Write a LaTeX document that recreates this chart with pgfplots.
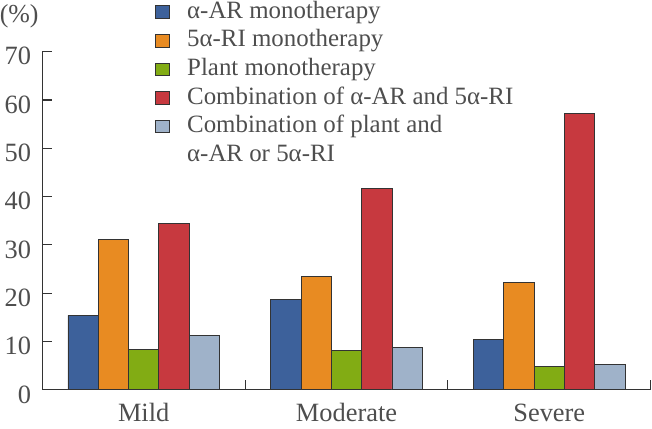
\documentclass[border=0pt]{standalone}
\usepackage{pgfplots}
\pgfplotsset{compat=1.18}
\usepackage{fontspec}
\setmainfont{Liberation Serif}
\definecolor{cblue}{HTML}{3D619B}
\definecolor{corange}{HTML}{E88B22}
\definecolor{cgreen}{HTML}{82AC14}
\definecolor{cred}{HTML}{C7393F}
\definecolor{clblue}{HTML}{9FB2C9}
\definecolor{txt}{HTML}{4E4E4E}
\definecolor{axc}{HTML}{333333}
\begin{document}
\begin{tikzpicture}
\begin{axis}[
  name=ax,
  width=608.7bp, height=338.3bp, scale only axis,
  xmin=-0.5, xmax=2.5, ymin=0, ymax=70,
  ybar=0pt, bar width=30.3bp,
  axis lines*=left,
  axis line style={axc, line width=1.1bp},
  tick style={axc, line width=1.1bp},
  tick align=inside,
  major tick length=10bp,
  ytick={0,10,...,70},
  xtick={0.5,1.5,2.5}, xticklabels={},
  extra x ticks={0,1,2},
  extra x tick labels={Mild,Moderate,Severe},
  extra x tick style={major tick length=0pt},
  /pgf/number format/assume math mode=true,
  yticklabel style={font=\fontsize{26.5}{30}\selectfont, text=txt, inner sep=0pt, anchor=base east, xshift=-11bp, yshift=-13.3bp},
  xticklabel style={font=\fontsize{26.5}{30}\selectfont, text=txt, inner sep=0pt, anchor=base, yshift=-31.5bp},
  clip=false,
  legend style={at={(axis description cs:0.1851,1.1490)}, anchor=north west, draw=none, fill=none,
    inner sep=0pt, outer sep=0pt, row sep=6.15bp, column sep=17bp,
    font=\fontsize{25}{30}\selectfont, text=txt,
    nodes={inner sep=0pt, text height=17bp, text depth=5.5bp},
    cells={anchor=base west}},
  legend image code/.code={\draw[#1, line width=0.8bp] (0bp,0bp) rectangle (14.5bp,12.5bp);},
  every axis plot/.append style={draw=axc, line width=0.8bp},
]
\addplot[fill=cblue] coordinates {(0,15.4) (1,18.8) (2,10.4)};
\addlegendentry{α-AR monotherapy}
\addplot[fill=corange] coordinates {(0,31.2) (1,23.5) (2,22.3)};
\addlegendentry{5α-RI monotherapy}
\addplot[fill=cgreen] coordinates {(0,8.3) (1,8.2) (2,4.9)};
\addlegendentry{Plant monotherapy}
\addplot[fill=cred] coordinates {(0,34.5) (1,41.7) (2,57.2)};
\addlegendentry{Combination of α-AR and 5α-RI}
\addplot[fill=clblue] coordinates {(0,11.2) (1,8.75) (2,5.3)};
\addlegendentry{Combination of plant and}
\addlegendimage{empty legend}
\addlegendentry{α-AR or 5α-RI}
\node[anchor=center, inner sep=0pt, text=txt, font=\fontsize{26}{30}\selectfont] at (axis description cs:-0.038,1.1035) {(\%)};
\end{axis}
\pgfresetboundingbox
\path ([shift={(-42.3bp,-39bp)}]ax.south west) rectangle ([shift={(1.3bp,51.7bp)}]ax.north east);
\end{tikzpicture}
\end{document}
